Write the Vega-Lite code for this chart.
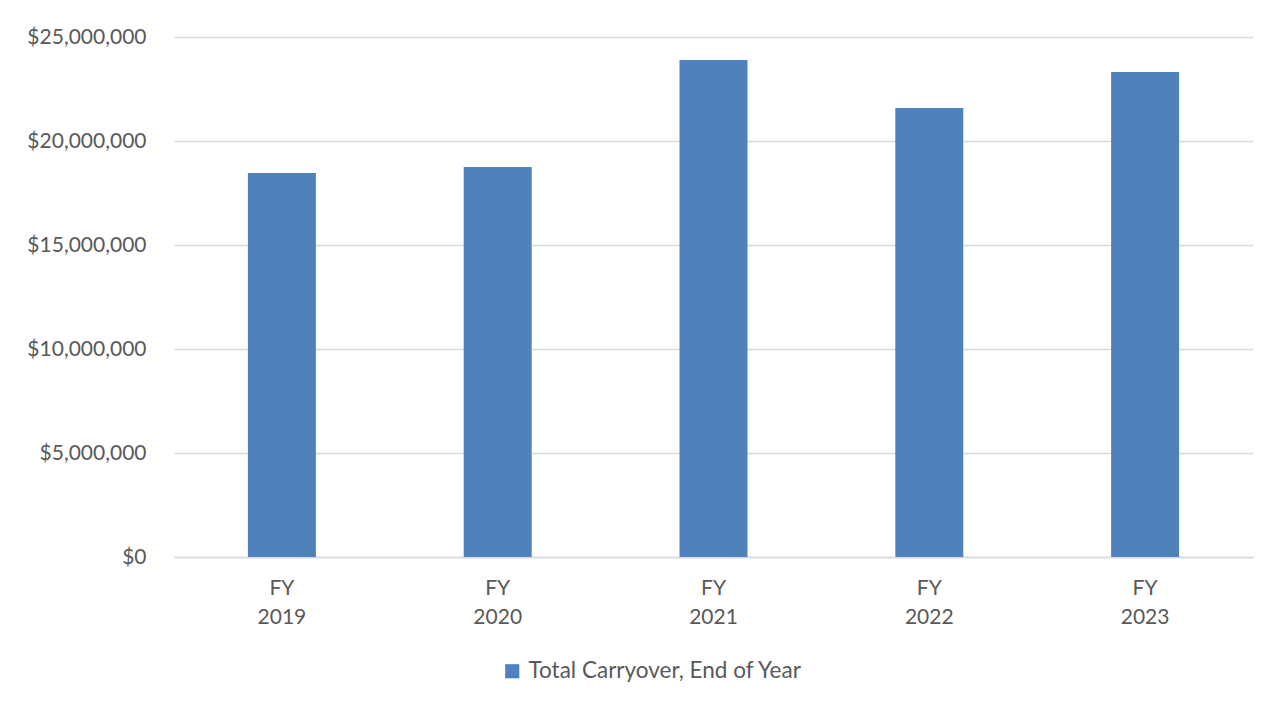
{
  "$schema": "https://vega.github.io/schema/vega-lite/v6.json",
  "width": 1079,
  "height": 520,
  "autosize": {"type": "none"},
  "padding": {"left": 174, "top": 37, "right": 30, "bottom": 149},
  "background": "#ffffff",
  "data": {
    "values": [
      {"year": "FY 2019", "value": 18460000, "series": "Total Carryover, End of Year"},
      {"year": "FY 2020", "value": 18750000, "series": "Total Carryover, End of Year"},
      {"year": "FY 2021", "value": 23890000, "series": "Total Carryover, End of Year"},
      {"year": "FY 2022", "value": 21590000, "series": "Total Carryover, End of Year"},
      {"year": "FY 2023", "value": 23320000, "series": "Total Carryover, End of Year"}
    ]
  },
  "mark": {"type": "bar", "color": "#4f81bd"},
  "encoding": {
    "x": {
      "field": "year",
      "type": "nominal",
      "sort": null,
      "scale": {"paddingInner": 0.685, "paddingOuter": 0.3425},
      "axis": {
        "title": null,
        "labelAngle": 0,
        "labelExpr": "split(datum.label, ' ')",
        "labelLineHeight": 29,
        "labelPadding": 31,
        "labelBaseline": "middle",
        "ticks": false,
        "domainColor": "#d9d9d9",
        "domainWidth": 1.5,
        "grid": false
      }
    },
    "y": {
      "field": "value",
      "type": "quantitative",
      "scale": {"domain": [0, 25000000], "nice": false},
      "axis": {
        "title": null,
        "format": "$,.0f",
        "values": [0, 5000000, 10000000, 15000000, 20000000, 25000000],
        "labelOverlap": false,
        "ticks": false,
        "domain": false,
        "labelPadding": 28,
        "gridColor": "#d9d9d9",
        "gridWidth": 1.5
      }
    },
    "fill": {
      "field": "series",
      "type": "nominal",
      "scale": {"range": ["#4f81bd"]},
      "legend": {
        "title": null,
        "orient": "none",
        "legendX": 327,
        "legendY": 623,
        "symbolType": "square",
        "symbolSize": 200,
        "symbolStrokeWidth": 0,
        "labelFontSize": 22.5,
        "labelLimit": 500,
        "labelOffset": 5,
        "labelColor": "#595959",
        "labelFont": "Lato"
      }
    }
  },
  "config": {
    "view": {"stroke": null},
    "axis": {
      "labelFont": "Lato",
      "labelFontSize": 21,
      "labelColor": "#595959"
    }
  }
}
